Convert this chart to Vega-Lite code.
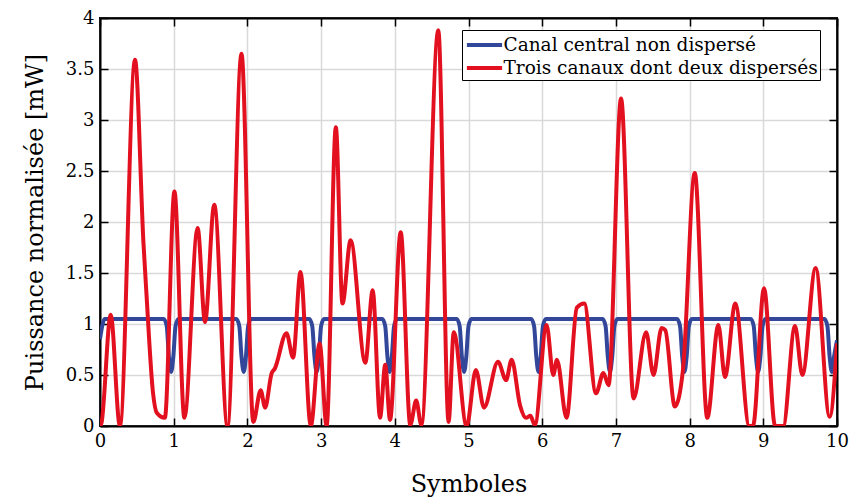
{
  "$schema": "https://vega.github.io/schema/vega-lite/v6.json",
  "width": 737,
  "height": 408,
  "autosize": "none",
  "padding": {"left": 100, "top": 18, "right": 12, "bottom": 72},
  "background": "white",
  "config": {
    "view": {"stroke": "black", "strokeWidth": 2},
    "font": "DejaVu Serif",
    "axis": {
      "labelFontSize": 18,
      "titleFontSize": 24,
      "titleFontWeight": "normal",
      "labelColor": "black",
      "titleColor": "black",
      "domainColor": "black",
      "domainWidth": 2,
      "tickColor": "black",
      "tickWidth": 1.5,
      "tickSize": -8,
      "labelFlush": false,
      "gridColor": "#d9d9d9",
      "gridWidth": 1.5
    }
  },
  "data": {
    "values": [
      {"x": 0.0, "y": 0.85, "s": "Canal central non dispersé"},
      {"x": 0.03, "y": 0.98, "s": "Canal central non dispersé"},
      {"x": 0.06, "y": 1.05, "s": "Canal central non dispersé"},
      {"x": 0.865, "y": 1.05, "s": "Canal central non dispersé"},
      {"x": 0.905, "y": 0.98, "s": "Canal central non dispersé"},
      {"x": 0.935, "y": 0.68, "s": "Canal central non dispersé"},
      {"x": 0.965, "y": 0.53, "s": "Canal central non dispersé"},
      {"x": 0.995, "y": 0.68, "s": "Canal central non dispersé"},
      {"x": 1.025, "y": 0.98, "s": "Canal central non dispersé"},
      {"x": 1.065, "y": 1.05, "s": "Canal central non dispersé"},
      {"x": 1.85, "y": 1.05, "s": "Canal central non dispersé"},
      {"x": 1.89, "y": 0.98, "s": "Canal central non dispersé"},
      {"x": 1.92, "y": 0.68, "s": "Canal central non dispersé"},
      {"x": 1.95, "y": 0.53, "s": "Canal central non dispersé"},
      {"x": 1.98, "y": 0.68, "s": "Canal central non dispersé"},
      {"x": 2.01, "y": 0.98, "s": "Canal central non dispersé"},
      {"x": 2.05, "y": 1.05, "s": "Canal central non dispersé"},
      {"x": 2.84, "y": 1.05, "s": "Canal central non dispersé"},
      {"x": 2.88, "y": 0.98, "s": "Canal central non dispersé"},
      {"x": 2.91, "y": 0.68, "s": "Canal central non dispersé"},
      {"x": 2.94, "y": 0.53, "s": "Canal central non dispersé"},
      {"x": 2.97, "y": 0.68, "s": "Canal central non dispersé"},
      {"x": 3.0, "y": 0.98, "s": "Canal central non dispersé"},
      {"x": 3.04, "y": 1.05, "s": "Canal central non dispersé"},
      {"x": 3.83, "y": 1.05, "s": "Canal central non dispersé"},
      {"x": 3.87, "y": 0.98, "s": "Canal central non dispersé"},
      {"x": 3.9, "y": 0.68, "s": "Canal central non dispersé"},
      {"x": 3.93, "y": 0.53, "s": "Canal central non dispersé"},
      {"x": 3.96, "y": 0.68, "s": "Canal central non dispersé"},
      {"x": 3.99, "y": 0.98, "s": "Canal central non dispersé"},
      {"x": 4.03, "y": 1.05, "s": "Canal central non dispersé"},
      {"x": 4.84, "y": 1.05, "s": "Canal central non dispersé"},
      {"x": 4.88, "y": 0.98, "s": "Canal central non dispersé"},
      {"x": 4.91, "y": 0.68, "s": "Canal central non dispersé"},
      {"x": 4.94, "y": 0.53, "s": "Canal central non dispersé"},
      {"x": 4.97, "y": 0.68, "s": "Canal central non dispersé"},
      {"x": 5.0, "y": 0.98, "s": "Canal central non dispersé"},
      {"x": 5.04, "y": 1.05, "s": "Canal central non dispersé"},
      {"x": 5.85, "y": 1.05, "s": "Canal central non dispersé"},
      {"x": 5.89, "y": 0.98, "s": "Canal central non dispersé"},
      {"x": 5.92, "y": 0.68, "s": "Canal central non dispersé"},
      {"x": 5.95, "y": 0.53, "s": "Canal central non dispersé"},
      {"x": 5.98, "y": 0.68, "s": "Canal central non dispersé"},
      {"x": 6.01, "y": 0.98, "s": "Canal central non dispersé"},
      {"x": 6.05, "y": 1.05, "s": "Canal central non dispersé"},
      {"x": 6.82, "y": 1.05, "s": "Canal central non dispersé"},
      {"x": 6.86, "y": 0.98, "s": "Canal central non dispersé"},
      {"x": 6.89, "y": 0.68, "s": "Canal central non dispersé"},
      {"x": 6.92, "y": 0.53, "s": "Canal central non dispersé"},
      {"x": 6.95, "y": 0.68, "s": "Canal central non dispersé"},
      {"x": 6.98, "y": 0.98, "s": "Canal central non dispersé"},
      {"x": 7.02, "y": 1.05, "s": "Canal central non dispersé"},
      {"x": 7.83, "y": 1.05, "s": "Canal central non dispersé"},
      {"x": 7.87, "y": 0.98, "s": "Canal central non dispersé"},
      {"x": 7.9, "y": 0.68, "s": "Canal central non dispersé"},
      {"x": 7.93, "y": 0.53, "s": "Canal central non dispersé"},
      {"x": 7.96, "y": 0.68, "s": "Canal central non dispersé"},
      {"x": 7.99, "y": 0.98, "s": "Canal central non dispersé"},
      {"x": 8.03, "y": 1.05, "s": "Canal central non dispersé"},
      {"x": 8.83, "y": 1.05, "s": "Canal central non dispersé"},
      {"x": 8.87, "y": 0.98, "s": "Canal central non dispersé"},
      {"x": 8.9, "y": 0.68, "s": "Canal central non dispersé"},
      {"x": 8.93, "y": 0.53, "s": "Canal central non dispersé"},
      {"x": 8.96, "y": 0.68, "s": "Canal central non dispersé"},
      {"x": 8.99, "y": 0.98, "s": "Canal central non dispersé"},
      {"x": 9.03, "y": 1.05, "s": "Canal central non dispersé"},
      {"x": 9.83, "y": 1.05, "s": "Canal central non dispersé"},
      {"x": 9.87, "y": 0.98, "s": "Canal central non dispersé"},
      {"x": 9.9, "y": 0.68, "s": "Canal central non dispersé"},
      {"x": 9.93, "y": 0.53, "s": "Canal central non dispersé"},
      {"x": 9.96, "y": 0.68, "s": "Canal central non dispersé"},
      {"x": 10.0, "y": 0.84, "s": "Canal central non dispersé"},

      {"x": 0.0, "y": 0.0, "s": "Trois canaux dont deux dispersés"},
      {"x": 0.02, "y": 0.03, "s": "Trois canaux dont deux dispersés"},
      {"x": 0.145, "y": 1.09, "s": "Trois canaux dont deux dispersés"},
      {"x": 0.27, "y": 0.0, "s": "Trois canaux dont deux dispersés"},
      {"x": 0.475, "y": 3.59, "s": "Trois canaux dont deux dispersés"},
      {"x": 0.59, "y": 1.79, "s": "Trois canaux dont deux dispersés"},
      {"x": 0.63, "y": 1.3, "s": "Trois canaux dont deux dispersés"},
      {"x": 0.72, "y": 0.32, "s": "Trois canaux dont deux dispersés"},
      {"x": 0.77, "y": 0.13, "s": "Trois canaux dont deux dispersés"},
      {"x": 0.88, "y": 0.08, "s": "Trois canaux dont deux dispersés"},
      {"x": 1.01, "y": 2.3, "s": "Trois canaux dont deux dispersés"},
      {"x": 1.145, "y": 0.08, "s": "Trois canaux dont deux dispersés"},
      {"x": 1.325, "y": 1.94, "s": "Trois canaux dont deux dispersés"},
      {"x": 1.425, "y": 1.02, "s": "Trois canaux dont deux dispersés"},
      {"x": 1.55, "y": 2.17, "s": "Trois canaux dont deux dispersés"},
      {"x": 1.73, "y": 0.0, "s": "Trois canaux dont deux dispersés"},
      {"x": 1.92, "y": 3.65, "s": "Trois canaux dont deux dispersés"},
      {"x": 2.08, "y": 0.04, "s": "Trois canaux dont deux dispersés"},
      {"x": 2.18, "y": 0.35, "s": "Trois canaux dont deux dispersés"},
      {"x": 2.24, "y": 0.18, "s": "Trois canaux dont deux dispersés"},
      {"x": 2.33, "y": 0.52, "s": "Trois canaux dont deux dispersés"},
      {"x": 2.37, "y": 0.56, "s": "Trois canaux dont deux dispersés"},
      {"x": 2.53, "y": 0.91, "s": "Trois canaux dont deux dispersés"},
      {"x": 2.62, "y": 0.67, "s": "Trois canaux dont deux dispersés"},
      {"x": 2.72, "y": 1.51, "s": "Trois canaux dont deux dispersés"},
      {"x": 2.86, "y": 0.0, "s": "Trois canaux dont deux dispersés"},
      {"x": 2.98, "y": 0.81, "s": "Trois canaux dont deux dispersés"},
      {"x": 3.075, "y": 0.0, "s": "Trois canaux dont deux dispersés"},
      {"x": 3.2, "y": 2.93, "s": "Trois canaux dont deux dispersés"},
      {"x": 3.29, "y": 1.2, "s": "Trois canaux dont deux dispersés"},
      {"x": 3.4, "y": 1.82, "s": "Trois canaux dont deux dispersés"},
      {"x": 3.6, "y": 0.62, "s": "Trois canaux dont deux dispersés"},
      {"x": 3.7, "y": 1.33, "s": "Trois canaux dont deux dispersés"},
      {"x": 3.8, "y": 0.08, "s": "Trois canaux dont deux dispersés"},
      {"x": 3.87, "y": 0.6, "s": "Trois canaux dont deux dispersés"},
      {"x": 3.935, "y": 0.06, "s": "Trois canaux dont deux dispersés"},
      {"x": 4.08, "y": 1.9, "s": "Trois canaux dont deux dispersés"},
      {"x": 4.21, "y": 0.01, "s": "Trois canaux dont deux dispersés"},
      {"x": 4.29, "y": 0.25, "s": "Trois canaux dont deux dispersés"},
      {"x": 4.36, "y": 0.01, "s": "Trois canaux dont deux dispersés"},
      {"x": 4.59, "y": 3.88, "s": "Trois canaux dont deux dispersés"},
      {"x": 4.73, "y": 0.04, "s": "Trois canaux dont deux dispersés"},
      {"x": 4.8, "y": 0.92, "s": "Trois canaux dont deux dispersés"},
      {"x": 4.975, "y": 0.0, "s": "Trois canaux dont deux dispersés"},
      {"x": 5.1, "y": 0.55, "s": "Trois canaux dont deux dispersés"},
      {"x": 5.21, "y": 0.18, "s": "Trois canaux dont deux dispersés"},
      {"x": 5.4, "y": 0.63, "s": "Trois canaux dont deux dispersés"},
      {"x": 5.51, "y": 0.45, "s": "Trois canaux dont deux dispersés"},
      {"x": 5.585, "y": 0.65, "s": "Trois canaux dont deux dispersés"},
      {"x": 5.7, "y": 0.2, "s": "Trois canaux dont deux dispersés"},
      {"x": 5.78, "y": 0.08, "s": "Trois canaux dont deux dispersés"},
      {"x": 5.84, "y": 0.1, "s": "Trois canaux dont deux dispersés"},
      {"x": 5.9, "y": 0.01, "s": "Trois canaux dont deux dispersés"},
      {"x": 6.06, "y": 0.99, "s": "Trois canaux dont deux dispersés"},
      {"x": 6.15, "y": 0.5, "s": "Trois canaux dont deux dispersés"},
      {"x": 6.2, "y": 0.65, "s": "Trois canaux dont deux dispersés"},
      {"x": 6.33, "y": 0.08, "s": "Trois canaux dont deux dispersés"},
      {"x": 6.47, "y": 1.16, "s": "Trois canaux dont deux dispersés"},
      {"x": 6.57, "y": 1.2, "s": "Trois canaux dont deux dispersés"},
      {"x": 6.73, "y": 0.32, "s": "Trois canaux dont deux dispersés"},
      {"x": 6.83, "y": 0.52, "s": "Trois canaux dont deux dispersés"},
      {"x": 6.9, "y": 0.4, "s": "Trois canaux dont deux dispersés"},
      {"x": 7.07, "y": 3.21, "s": "Trois canaux dont deux dispersés"},
      {"x": 7.24, "y": 0.27, "s": "Trois canaux dont deux dispersés"},
      {"x": 7.41, "y": 0.92, "s": "Trois canaux dont deux dispersés"},
      {"x": 7.51, "y": 0.5, "s": "Trois canaux dont deux dispersés"},
      {"x": 7.62, "y": 0.96, "s": "Trois canaux dont deux dispersés"},
      {"x": 7.67, "y": 0.94, "s": "Trois canaux dont deux dispersés"},
      {"x": 7.8, "y": 0.19, "s": "Trois canaux dont deux dispersés"},
      {"x": 7.91, "y": 0.55, "s": "Trois canaux dont deux dispersés"},
      {"x": 8.07, "y": 2.48, "s": "Trois canaux dont deux dispersés"},
      {"x": 8.24, "y": 0.08, "s": "Trois canaux dont deux dispersés"},
      {"x": 8.39, "y": 0.99, "s": "Trois canaux dont deux dispersés"},
      {"x": 8.48, "y": 0.48, "s": "Trois canaux dont deux dispersés"},
      {"x": 8.62, "y": 1.2, "s": "Trois canaux dont deux dispersés"},
      {"x": 8.81, "y": 0.0, "s": "Trois canaux dont deux dispersés"},
      {"x": 8.86, "y": 0.0, "s": "Trois canaux dont deux dispersés"},
      {"x": 9.01, "y": 1.35, "s": "Trois canaux dont deux dispersés"},
      {"x": 9.16, "y": 0.0, "s": "Trois canaux dont deux dispersés"},
      {"x": 9.27, "y": 0.0, "s": "Trois canaux dont deux dispersés"},
      {"x": 9.43, "y": 0.98, "s": "Trois canaux dont deux dispersés"},
      {"x": 9.53, "y": 0.5, "s": "Trois canaux dont deux dispersés"},
      {"x": 9.71, "y": 1.55, "s": "Trois canaux dont deux dispersés"},
      {"x": 9.9, "y": 0.09, "s": "Trois canaux dont deux dispersés"},
      {"x": 10.0, "y": 0.81, "s": "Trois canaux dont deux dispersés"}
    ]
  },
  "layer": [
    {
      "mark": {"type": "line", "strokeWidth": 4, "interpolate": "monotone", "clip": true},
      "encoding": {
        "x": {
          "field": "x", "type": "quantitative",
          "scale": {"domain": [0, 10], "nice": false, "zero": false},
          "axis": {"title": "Symboles", "values": [0,1,2,3,4,5,6,7,8,9,10], "labelPadding": 14, "titlePadding": 22, "grid": true}
        },
        "y": {
          "field": "y", "type": "quantitative",
          "scale": {"domain": [0, 4], "nice": false},
          "axis": {"title": "Puissance normalisée [mW]", "values": [0,0.5,1,1.5,2,2.5,3,3.5,4], "labelExpr": "'' + datum.value", "labelPadding": 14, "titlePadding": 18, "grid": true}
        },
        "color": {
          "field": "s", "type": "nominal",
          "scale": {"domain": ["Canal central non dispersé", "Trois canaux dont deux dispersés"], "range": ["#33479a", "#e3101f"]},
          "legend": {
            "title": null,
            "orient": "none",
            "legendX": 362,
            "legendY": 12,
            "strokeColor": "black",
            "fillColor": "white",
            "padding": 2,
            "symbolType": "M-1.6,0H1.6",
            "symbolStrokeWidth": 4,
            "symbolSize": 484,
            "symbolOffset": 7.5,
            "labelFontSize": 18.5,
            "labelColor": "black",
            "labelLimit": 500,
            "rowPadding": 0,
            "labelOffset": 6
          }
        }
      }
    },
    {
      "mark": {"type": "point", "opacity": 0},
      "encoding": {
        "x": {"field": "x", "type": "quantitative", "axis": {"orient": "top", "title": null, "labels": false, "grid": false, "values": [0,1,2,3,4,5,6,7,8,9,10]}},
        "y": {"field": "y", "type": "quantitative", "axis": {"orient": "right", "title": null, "labels": false, "grid": false, "values": [0,0.5,1,1.5,2,2.5,3,3.5,4]}}
      }
    }
  ],
  "resolve": {"axis": {"x": "independent", "y": "independent"}}
}
